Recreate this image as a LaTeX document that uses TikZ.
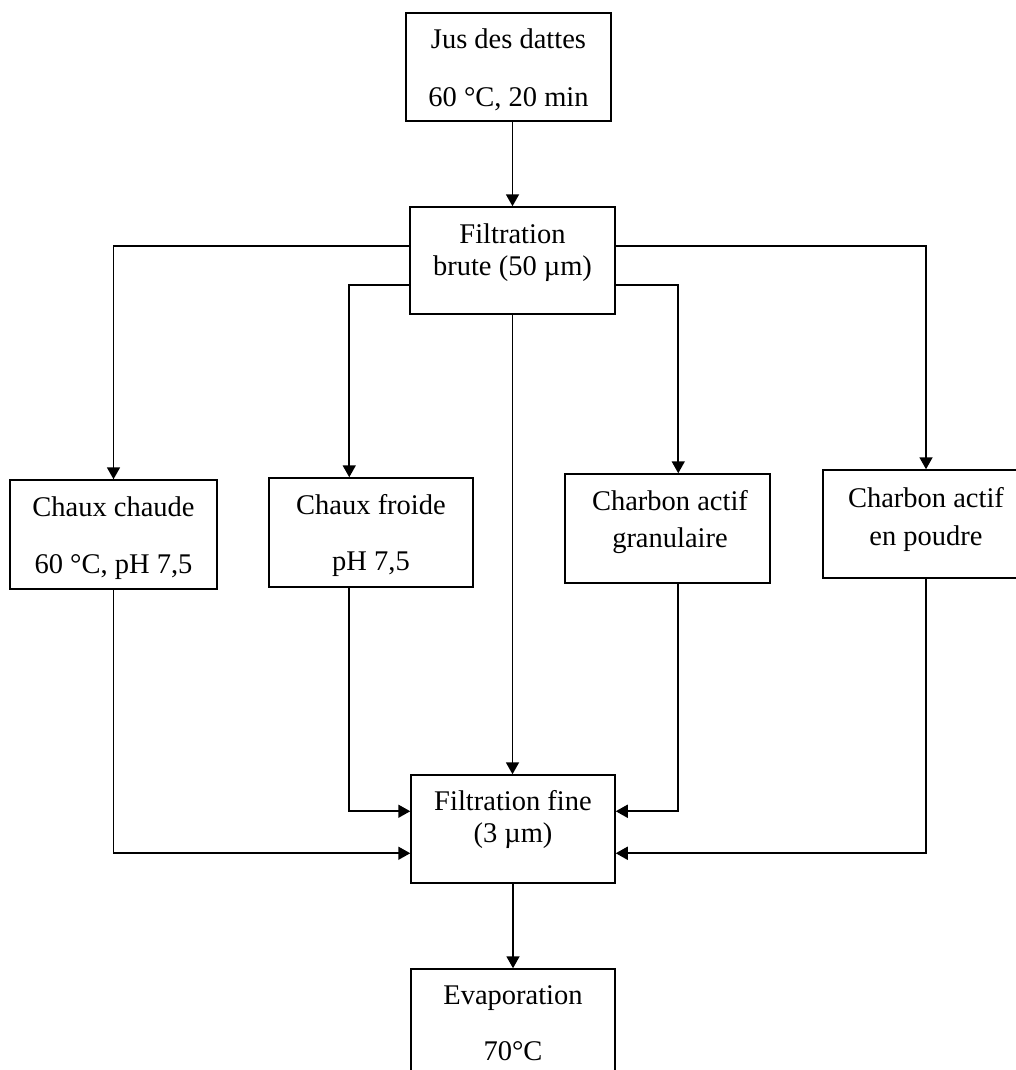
\documentclass[tikz,border=0pt]{standalone}
\usepackage{fontspec}
\setmainfont{Liberation Serif}
\usetikzlibrary{arrows.meta,calc}
\tikzset{
  box/.style={draw, line width=1.5pt, inner sep=0pt, rectangle},
  txt/.style={anchor=base, inner sep=0pt, font=\fontsize{28.5}{33}\selectfont},
  arr/.style={draw, line width=1.8pt, -{Triangle[length=12pt,width=13pt]}}
}
\begin{document}
\begin{tikzpicture}[x=1pt,y=-1pt]
\useasboundingbox (0,0) rectangle (1016,1070);
% boxes
\node[box, minimum width=205pt, minimum height=108pt] (jus) at (508.5,67) {};
\node[box, minimum width=205pt, minimum height=107pt] (fb) at (512.5,260.5) {};
\node[box, minimum width=207pt, minimum height=109pt] (cc) at (113.5,534.5) {};
\node[box, minimum width=204pt, minimum height=109pt] (cf) at (371,532.5) {};
\node[box, minimum width=205pt, minimum height=109pt] (cg) at (667.5,528.5) {};
\node[box, minimum width=206pt, minimum height=108pt] (cp) at (926,524) {};
\node[box, minimum width=204pt, minimum height=108pt] (ff) at (513,829) {};
\node[box, minimum width=204pt, minimum height=109pt] (ev) at (513,1023.5) {};
% texts
\node[txt] (jus1) at (508.5,49) {Jus des dattes};
\node[txt] (jus2) at (508.5,107) {60 °C, 20 min};
\node[txt] (fb1) at (512.5,243) {Filtration};
\node[txt] (fb2) at (512.5,275) {brute (50 µm)};
\node[txt] (cc1) at (113.5,516) {Chaux chaude};
\node[txt] (cc2) at (113.5,573) {60 °C, pH 7,5};
\node[txt] (cf1) at (371,514) {Chaux froide};
\node[txt] (cf2) at (371,570) {pH 7,5};
\node[txt] (cg1) at (670,510) {Charbon actif};
\node[txt] (cg2) at (670,547) {granulaire};
\node[txt] (cp1) at (926,507) {Charbon actif};
\node[txt] (cp2) at (926,545) {en poudre};
\node[txt] (ff1) at (513,810) {Filtration fine};
\node[txt] (ff2) at (513,842) {(3 µm)};
\node[txt] (ev1) at (513,1004) {Evaporation};
\node[txt] (ev2) at (513,1060) {70°C};
% connector points
\coordinate (fbL1) at ($(fb.north west)+(0,40)$);
\coordinate (fbL2) at ($(fb.north west)+(0,79)$);
\coordinate (fbR1) at ($(fb.north east)+(0,40)$);
\coordinate (fbR2) at ($(fb.north east)+(0,79)$);
\coordinate (cfTop) at ($(cf.north west)+(81,0)$);
\coordinate (cfBot) at ($(cf.south west)+(81,0)$);
\coordinate (cgTop) at ($(cg.north west)+(114,0)$);
\coordinate (cgBot) at ($(cg.south west)+(114,0)$);
\coordinate (ffL1) at ($(ff.north west)+(0,37)$);
\coordinate (ffL2) at ($(ff.north west)+(0,79)$);
\coordinate (ffR1) at ($(ff.north east)+(0,37)$);
\coordinate (ffR2) at ($(ff.north east)+(0,79)$);
% connectors
\path[arr] (fb.north |- jus.south) -- (fb.north);
\path[arr] (fbL1) -| (cc.north);
\path[arr] (fbL2) -| (cfTop);
\path[arr] (fbR2) -| (cgTop);
\path[arr] (fbR1) -| (cp.north);
\path[arr] (fb.south) -- (fb.south |- ff.north);
\path[arr] (cc.south) |- (ffL2);
\path[arr] (cfBot) |- (ffL1);
\path[arr] (cgBot) |- (ffR1);
\path[arr] (cp.south) |- (ffR2);
\path[arr] (ff.south) -- (ev.north);
\end{tikzpicture}
\end{document}
